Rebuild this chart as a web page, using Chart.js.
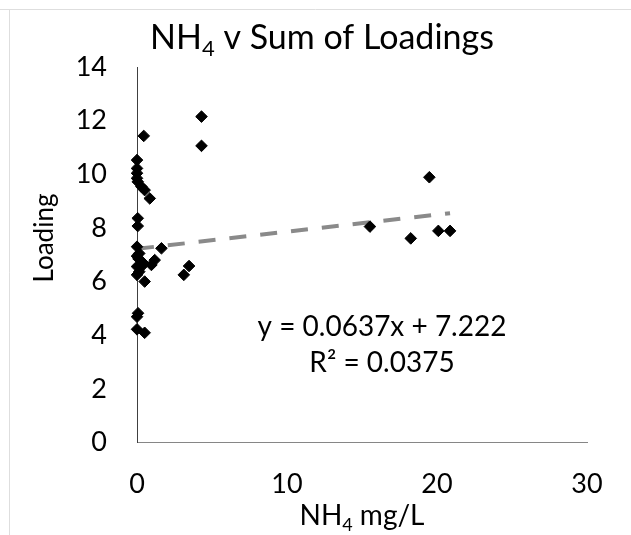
<!DOCTYPE html>
<html>
<head>
<meta charset="utf-8">
<script src="https://cdn.jsdelivr.net/npm/chart.js@4"></script>
<style>
  body { margin: 0; background: #fff; }
  #wrap { width: 631px; height: 535px; }
</style>
</head>
<body>
<div id="wrap"><canvas id="chart" width="631" height="535"></canvas></div>
<script>
  // NH4 (mg/L) vs sum of loadings
  const nh4 = [4.3, 4.3, 0.45, 0, 0, 0, 0, 0.05, 0.29, 0.51, 0.85, 0.05, 0.05, 0, 1.63, 0.15, 1.18, 0.96, 0.1,
    0, 0.3, 0.15, 0, 0.51, 0, 0.4, 3.47, 3.12, 0.07, 0, 0, 0.51, 19.49, 18.25, 20.09, 20.87, 15.53];
  const loading = [12.15, 11.06, 11.43, 10.53, 10.22, 10.04, 9.85, 9.72, 9.54, 9.41, 9.1, 8.36, 8.07, 7.3, 7.24, 7.05, 6.8, 6.62, 6.85,
    6.56, 6.56, 6.37, 6.25, 6.0, 6.95, 6.7, 6.58, 6.25, 4.82, 4.69, 4.22, 4.09, 9.89, 7.61, 7.89, 7.89, 8.05];

  // trendline as printed on the chart
  const slope = 0.0637;
  const intercept = 7.222;
  const eqLabel = 'y = 0.0637x + 7.222';
  const r2Label = 'R² = 0.0375';

  const xTicks = [0, 10, 20, 30];
  const yTicks = [0, 2, 4, 6, 8, 10, 12, 14];

  const FONT = 'Lato, "Open Sans", sans-serif';

  const points = nh4.map((x, i) => ({ x: x, y: loading[i] }));
  const xMin = Math.min(...nh4);
  const xMax = Math.max(...nh4);
  const trend = [
    { x: xMin, y: intercept + slope * xMin },
    { x: xMax, y: intercept + slope * xMax }
  ];

  // text with a subscript part: [[text, isSub], ...]
  function drawRich(ctx, parts, cx, baseline, size) {
    const subSize = Math.round(size * 0.65);
    let total = 0;
    for (const [t, sub] of parts) {
      ctx.font = `${sub ? subSize : size}px ${FONT}`;
      total += ctx.measureText(t).width;
    }
    let x = cx - total / 2;
    ctx.textAlign = 'left';
    ctx.textBaseline = 'alphabetic';
    for (const [t, sub] of parts) {
      ctx.font = `${sub ? subSize : size}px ${FONT}`;
      ctx.fillText(t, x, baseline + (sub ? size * 0.22 : 0));
      x += ctx.measureText(t).width;
    }
  }

  const decorations = {
    id: 'decorations',
    afterDraw(chart) {
      const ctx = chart.ctx;
      const area = chart.chartArea;
      ctx.save();

      // faint outer frame
      ctx.strokeStyle = '#dedede';
      ctx.lineWidth = 1;
      ctx.beginPath();
      ctx.moveTo(0, 9.5); ctx.lineTo(631, 9.5);
      ctx.moveTo(9.5, 9.5); ctx.lineTo(9.5, 535);
      ctx.stroke();

      ctx.fillStyle = '#000';
      drawRich(ctx, [['NH', false], ['4', true], [' v Sum of Loadings', false]], 322, 49, 34);
      drawRich(ctx, [['NH', false], ['4', true], [' mg/L', false]], (area.left + area.right) / 2, 525, 28);

      ctx.font = `28px ${FONT}`;
      ctx.textAlign = 'center';
      ctx.textBaseline = 'middle';
      ctx.fillText(eqLabel, 382, 327);
      ctx.fillText(r2Label, 382, 363);

      ctx.font = `26px ${FONT}`;
      ctx.translate(45, 238);
      ctx.rotate(-Math.PI / 2);
      ctx.fillText('Loading', 0, 0);
      ctx.restore();
    }
  };

  new Chart(document.getElementById('chart'), {
    type: 'scatter',
    data: {
      datasets: [
        {
          label: 'Loading',
          data: points,
          clip: false,
          pointStyle: 'rectRot',
          pointRadius: 5.8,
          pointBackgroundColor: '#000',
          pointBorderColor: '#000',
          pointBorderWidth: 1
        },
        {
          type: 'line',
          label: 'Linear trend',
          data: trend,
          borderColor: '#8a8a8a',
          borderWidth: 4,
          borderDash: [17, 14],
          pointRadius: 0,
          fill: false
        }
      ]
    },
    options: {
      responsive: false,
      animation: false,
      layout: { padding: { left: 0, top: 67, right: 44, bottom: 0 } },
      plugins: {
        legend: { display: false },
        title: { display: false },
        tooltip: { enabled: false }
      },
      scales: {
        x: {
          type: 'linear',
          min: 0,
          max: 30,
          afterFit: (s) => { s.height = 92.5; },
          afterBuildTicks: (s) => { s.ticks = xTicks.map(v => ({ value: v })); },
          grid: { display: false, drawTicks: false },
          border: { display: true, color: '#868686', width: 1 },
          ticks: { color: '#000', padding: 26, font: { family: FONT, size: 27 } }
        },
        y: {
          type: 'linear',
          min: 0,
          max: 14,
          afterFit: (s) => { s.width = 137; },
          afterBuildTicks: (s) => { s.ticks = yTicks.map(v => ({ value: v })); },
          grid: { display: false, drawTicks: false },
          border: { display: true, color: '#404040', width: 1 },
          ticks: { color: '#000', padding: 30, font: { family: FONT, size: 27 } }
        }
      }
    },
    plugins: [decorations]
  });
</script>
</body>
</html>
